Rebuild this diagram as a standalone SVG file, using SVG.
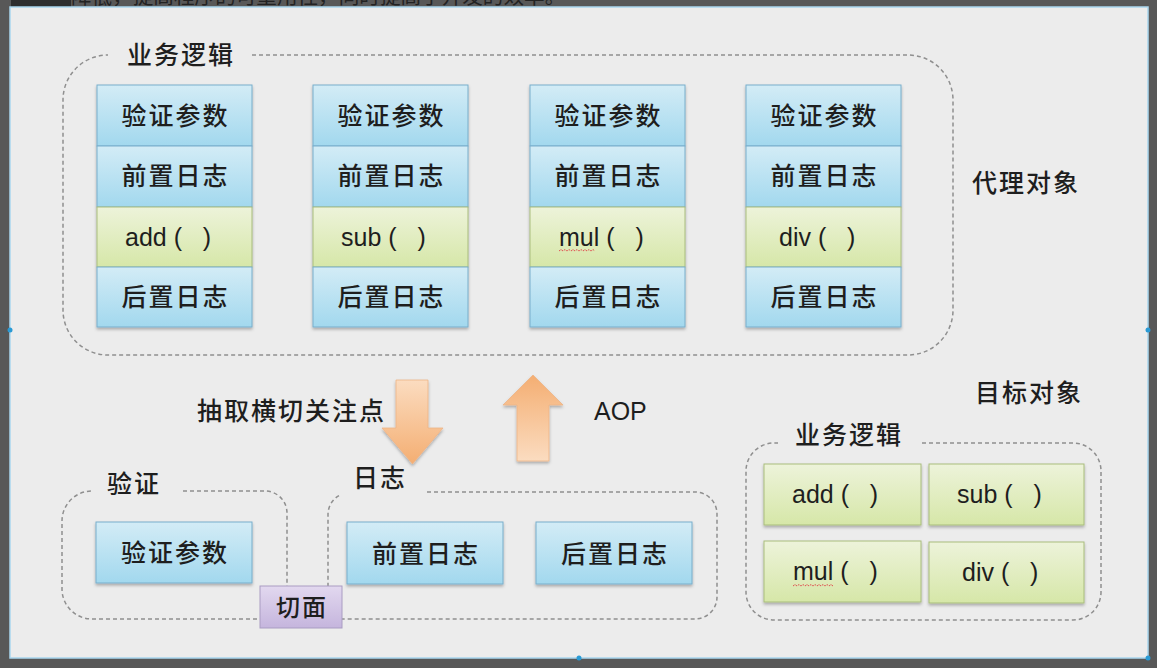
<svg xmlns="http://www.w3.org/2000/svg" width="1157" height="668" viewBox="0 0 1157 668">
  <defs>
    <style>
      .cjk { font-family: "Noto Sans CJK SC", "Noto Sans", sans-serif; font-size: 25px; font-weight: 500; fill: #1e1e1e; letter-spacing: 2px; }
      .lat { font-family: "Liberation Sans", Arial, sans-serif; font-size: 25px; fill: #1e1e1e; }
      .grp { fill: none; stroke: #8f8f8f; stroke-width: 1.5; stroke-dasharray: 4 3; }
      .blue { fill: url(#gBlue); stroke: #78aecb; stroke-width: 1; }
      .green { fill: url(#gGreen); stroke: #a9bd7c; stroke-width: 1; }
      .purple { fill: url(#gPurple); stroke: #a99cc2; stroke-width: 1; }
      .squig { fill: none; stroke: #e05050; stroke-width: 1; stroke-dasharray: 2 1; }
      .handle { fill: #2a9ad4; }
    </style>
    <linearGradient id="gBlue" x1="0" y1="0" x2="0" y2="1">
      <stop offset="0" stop-color="#d3ecf6"/>
      <stop offset="1" stop-color="#a2d8ee"/>
    </linearGradient>
    <linearGradient id="gGreen" x1="0" y1="0" x2="0" y2="1">
      <stop offset="0" stop-color="#edf3da"/>
      <stop offset="1" stop-color="#d6e7a8"/>
    </linearGradient>
    <linearGradient id="gPurple" x1="0" y1="0" x2="0" y2="1">
      <stop offset="0" stop-color="#e2d8ef"/>
      <stop offset="1" stop-color="#c5b5dd"/>
    </linearGradient>
    <linearGradient id="gUp" x1="0" y1="0" x2="0" y2="1">
      <stop offset="0" stop-color="#f4ae72"/>
      <stop offset="1" stop-color="#fbdcc0"/>
    </linearGradient>
    <linearGradient id="gDown" x1="0" y1="0" x2="0" y2="1">
      <stop offset="0" stop-color="#fbdcc0"/>
      <stop offset="1" stop-color="#f4ae72"/>
    </linearGradient>
    <filter id="sh" x="-10%" y="-10%" width="120%" height="130%">
      <feDropShadow dx="0" dy="2" stdDeviation="1.5" flood-color="#000" flood-opacity="0.28"/>
    </filter>
    <clipPath id="topClip"><rect x="0" y="0" width="1157" height="7"/></clipPath>
  </defs>

  <!-- frame -->
  <rect x="0" y="0" width="1157" height="668" fill="#585858"/>
  <g clip-path="url(#topClip)">
    <rect x="11" y="0" width="60" height="7" fill="#2e2e2e"/>
    <text x="71" y="4" font-family="Noto Sans CJK SC, sans-serif" font-size="20.6" fill="#232323">降低，提高程序的可重用性，同时提高了开发的效率。</text>
  </g>
  <rect x="10" y="7" width="1138" height="651" fill="#ececec" stroke="#a9d6ee" stroke-width="1.5"/>
  <circle class="handle" cx="10" cy="330" r="2.5"/>
  <circle class="handle" cx="1148" cy="330" r="2.5"/>
  <circle class="handle" cx="579" cy="658" r="2.5"/>
  <circle class="handle" cx="1148" cy="658" r="2.5"/>

  <!-- group outlines and arrows -->
  <g id="connectors">
    <path class="grp" d="M252 55 H908 A45 45 0 0 1 953 100 V310 A45 45 0 0 1 908 355 H108 A45 45 0 0 1 63 310 V100 A45 45 0 0 1 108 55"/>
    <path class="grp" d="M183 491 H265 A22 22 0 0 1 287 513 V600 M287 600 V619 H92 A30 30 0 0 1 62 589 V521 A30 30 0 0 1 92 491"/>
    <path class="grp" d="M427 492 H695 A22 22 0 0 1 717 514 V597 A22 22 0 0 1 695 619 H328 V514 A22 22 0 0 1 340 495"/>
    <path class="grp" d="M922 443 H1073 A28 28 0 0 1 1101 471 V592 A28 28 0 0 1 1073 620 H774 A28 28 0 0 1 746 592 V471 A28 28 0 0 1 774 443 H778"/>
    <polygon id="arrow-down" points="396,380 428,380 428,428 443,428 412.5,464 382,428 396,428" fill="url(#gDown)" stroke="#eeb486" stroke-width="0.8" filter="url(#sh)"/>
    <polygon id="arrow-up" points="533,375 563,405 549,405 549,461 517,461 517,405 503,405" fill="url(#gUp)" stroke="#eeb486" stroke-width="0.8" filter="url(#sh)"/>
  </g>

  <text class="cjk" x="127" y="63.5">业务逻辑</text>
  <text class="cjk" x="972" y="191.5">代理对象</text>
  <text class="cjk" x="975" y="402">目标对象</text>
  <text class="cjk" x="197" y="420">抽取横切关注点</text>
  <text class="lat" x="594" y="420">AOP</text>
  <text class="cjk" x="795" y="444">业务逻辑</text>
  <text class="cjk" x="107" y="492.5">验证</text>
  <text class="cjk" x="353" y="487">日志</text>

  <!-- proxy columns -->
  <g id="proxy-add" filter="url(#sh)">
    <rect class="blue" x="97" y="85" width="155" height="61"/>
    <rect class="blue" x="97" y="146" width="155" height="61"/>
    <rect class="green" x="97" y="207" width="155" height="60"/>
    <rect class="blue" x="97" y="267" width="155" height="60"/>
  </g>
  <g id="proxy-sub" filter="url(#sh)">
    <rect class="blue" x="313" y="85" width="155" height="61"/>
    <rect class="blue" x="313" y="146" width="155" height="61"/>
    <rect class="green" x="313" y="207" width="155" height="60"/>
    <rect class="blue" x="313" y="267" width="155" height="60"/>
  </g>
  <g id="proxy-mul" filter="url(#sh)">
    <rect class="blue" x="530" y="85" width="155" height="61"/>
    <rect class="blue" x="530" y="146" width="155" height="61"/>
    <rect class="green" x="530" y="207" width="155" height="60"/>
    <rect class="blue" x="530" y="267" width="155" height="60"/>
  </g>
  <g id="proxy-div" filter="url(#sh)">
    <rect class="blue" x="746" y="85" width="155" height="61"/>
    <rect class="blue" x="746" y="146" width="155" height="61"/>
    <rect class="green" x="746" y="207" width="155" height="60"/>
    <rect class="blue" x="746" y="267" width="155" height="60"/>
  </g>
  <g id="proxy-texts" text-anchor="middle">
    <text class="cjk" x="175.5" y="124.5">验证参数</text>
    <text class="cjk" x="175.5" y="185">前置日志</text>
    <text class="cjk" x="175.5" y="305.5">后置日志</text>
    <text class="cjk" x="391.5" y="124.5">验证参数</text>
    <text class="cjk" x="391.5" y="185">前置日志</text>
    <text class="cjk" x="391.5" y="305.5">后置日志</text>
    <text class="cjk" x="608.5" y="124.5">验证参数</text>
    <text class="cjk" x="608.5" y="185">前置日志</text>
    <text class="cjk" x="608.5" y="305.5">后置日志</text>
    <text class="cjk" x="824.5" y="124.5">验证参数</text>
    <text class="cjk" x="824.5" y="185">前置日志</text>
    <text class="cjk" x="824.5" y="305.5">后置日志</text>
  </g>
  <text class="lat" x="125" y="245.5" xml:space="preserve">add (   )</text>
  <text class="lat" x="341" y="245.5" xml:space="preserve">sub (   )</text>
  <text class="lat" x="559" y="245.5" xml:space="preserve">mul (   )</text>
  <path class="squig" d="M559 251 l2 -1.5 l2 1.5 l2 -1.5 l2 1.5 l2 -1.5 l2 1.5 l2 -1.5 l2 1.5 l2 -1.5 l2 1.5 l2 -1.5 l2 1.5 l2 -1.5 l2 1.5 l2 -1.5 l2 1.5 l2 -1.5 l2 1.5"/>
  <text class="lat" x="779" y="245.5" xml:space="preserve">div (   )</text>

  <!-- aspect boxes -->
  <g id="validate-box" filter="url(#sh)">
    <rect class="blue" x="96" y="522" width="156" height="61"/>
  </g>
  <text class="cjk" x="175" y="562" text-anchor="middle">验证参数</text>
  <g id="before-log-box" filter="url(#sh)">
    <rect class="blue" x="347" y="522" width="156" height="62"/>
  </g>
  <text class="cjk" x="426" y="562.5" text-anchor="middle">前置日志</text>
  <g id="after-log-box" filter="url(#sh)">
    <rect class="blue" x="536" y="522" width="156" height="62"/>
  </g>
  <text class="cjk" x="615" y="562.5" text-anchor="middle">后置日志</text>
  <g id="aspect-box">
    <rect class="purple" x="260" y="586" width="82" height="42"/>
    <text class="cjk" x="302" y="615.5" text-anchor="middle" style="font-size:24px">切面</text>
  </g>

  <!-- target boxes -->
  <g id="target-add" filter="url(#sh)"><rect class="green" x="764" y="464" width="157" height="61"/></g>
  <g id="target-sub" filter="url(#sh)"><rect class="green" x="929" y="464" width="155" height="61"/></g>
  <g id="target-mul" filter="url(#sh)"><rect class="green" x="764" y="541" width="157" height="61"/></g>
  <g id="target-div" filter="url(#sh)"><rect class="green" x="929" y="542" width="155" height="61"/></g>
  <text class="lat" x="792" y="503" xml:space="preserve">add (   )</text>
  <text class="lat" x="957" y="503" xml:space="preserve">sub (   )</text>
  <text class="lat" x="793" y="580" xml:space="preserve">mul (   )</text>
  <path class="squig" d="M793 586 l2 -1.5 l2 1.5 l2 -1.5 l2 1.5 l2 -1.5 l2 1.5 l2 -1.5 l2 1.5 l2 -1.5 l2 1.5 l2 -1.5 l2 1.5 l2 -1.5 l2 1.5 l2 -1.5 l2 1.5 l2 -1.5 l2 1.5 l2 -1.5 l2 1.5"/>
  <text class="lat" x="962" y="581" xml:space="preserve">div (   )</text>
</svg>
